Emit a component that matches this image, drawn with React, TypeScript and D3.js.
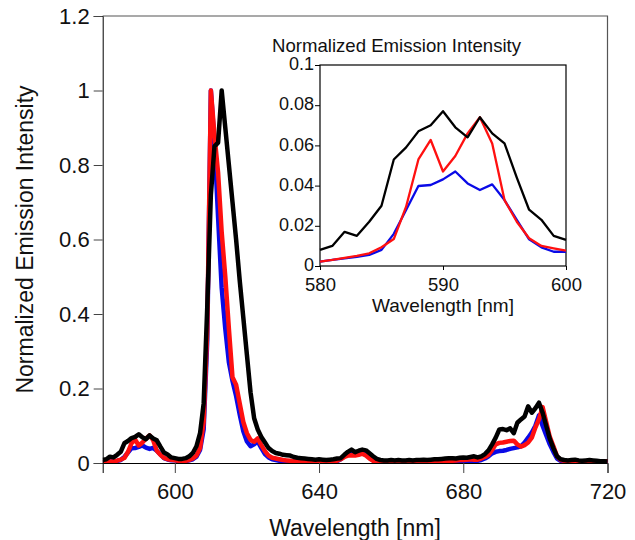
import * as d3 from "d3";
import { useRef, useEffect } from "react";

// sampled every 1 nm, 580..720
const wavelengths = d3.range(580, 721);

const black = [
  0.008, 0.010, 0.017, 0.015, 0.022, 0.030, 0.053, 0.059, 0.067, 0.070,
  0.077, 0.069, 0.064, 0.074, 0.066, 0.061, 0.044, 0.028, 0.023, 0.015,
  0.013, 0.011, 0.011, 0.013, 0.018, 0.027, 0.045, 0.08, 0.16, 0.42,
  0.72, 0.85, 0.86, 1.0, 0.9, 0.8, 0.7, 0.6, 0.49, 0.39,
  0.29, 0.19, 0.12, 0.09, 0.07, 0.055, 0.04, 0.032, 0.027, 0.025,
  0.022, 0.021, 0.02, 0.016, 0.014, 0.013, 0.012, 0.011, 0.01, 0.009,
  0.01, 0.009, 0.008, 0.009, 0.01, 0.012, 0.013, 0.022, 0.03, 0.036,
  0.029, 0.033, 0.036, 0.034, 0.026, 0.018, 0.011, 0.008, 0.007, 0.007,
  0.008, 0.007, 0.008, 0.007, 0.007, 0.008, 0.007, 0.008, 0.008, 0.009,
  0.008, 0.009, 0.010, 0.010, 0.011, 0.012, 0.013, 0.013, 0.012, 0.014,
  0.015, 0.014, 0.016, 0.018, 0.015, 0.018, 0.024, 0.034, 0.05, 0.068,
  0.09, 0.091, 0.088, 0.093, 0.08, 0.108, 0.117, 0.125, 0.152, 0.135,
  0.147, 0.162, 0.135, 0.1, 0.065, 0.04, 0.018, 0.01, 0.008, 0.007,
  0.008, 0.009, 0.007, 0.006, 0.007, 0.008, 0.007, 0.006, 0.005, 0.005,
  0.004,
];

const red = [
  0.0022, 0.003, 0.004, 0.005, 0.0063, 0.0093, 0.0134, 0.0295, 0.053, 0.0627,
  0.047, 0.0547, 0.066, 0.074, 0.061, 0.0328, 0.022, 0.0138, 0.01, 0.0088,
  0.0076, 0.006, 0.005, 0.006, 0.008, 0.012, 0.02, 0.04, 0.11, 0.36,
  1.0, 0.88, 0.78, 0.62, 0.5, 0.36, 0.23, 0.21, 0.16, 0.11,
  0.08, 0.062, 0.057, 0.066, 0.048, 0.032, 0.02, 0.014, 0.012, 0.01,
  0.008, 0.007, 0.006, 0.005, 0.005, 0.004, 0.004, 0.003, 0.003, 0.003,
  0.003, 0.003, 0.003, 0.004, 0.004, 0.006, 0.01, 0.016, 0.02, 0.021,
  0.02, 0.022, 0.025, 0.02, 0.012, 0.006, 0.003, 0.003, 0.002, 0.003,
  0.002, 0.003, 0.002, 0.003, 0.003, 0.002, 0.003, 0.002, 0.003, 0.003,
  0.004, 0.003, 0.004, 0.004, 0.005, 0.005, 0.006, 0.006, 0.007, 0.008,
  0.008, 0.009, 0.01, 0.009, 0.009, 0.012, 0.016, 0.022, 0.035, 0.05,
  0.054, 0.055, 0.057, 0.059, 0.06, 0.05, 0.044, 0.048, 0.055, 0.068,
  0.095, 0.118, 0.15, 0.11, 0.07, 0.045, 0.018, 0.008, 0.006, 0.005,
  0.005, 0.004, 0.005, 0.004, 0.004, 0.005, 0.004, 0.004, 0.003, 0.004,
  0.004,
];

const blue = [
  0.0022, 0.003, 0.0038, 0.0046, 0.0055, 0.008, 0.016, 0.0279, 0.0398, 0.0403,
  0.0431, 0.047, 0.0411, 0.0378, 0.0406, 0.0328, 0.0229, 0.0133, 0.0093, 0.0071,
  0.0071, 0.005, 0.004, 0.005, 0.007, 0.01, 0.017, 0.035, 0.09, 0.33,
  1.0, 0.86, 0.66, 0.47, 0.36, 0.27, 0.22, 0.18, 0.13, 0.085,
  0.058, 0.045, 0.05, 0.058, 0.04, 0.024, 0.015, 0.01, 0.008, 0.006,
  0.005, 0.004, 0.004, 0.004, 0.003, 0.003, 0.003, 0.003, 0.003, 0.003,
  0.003, 0.003, 0.003, 0.003, 0.004, 0.005, 0.01, 0.018, 0.024, 0.026,
  0.027, 0.028, 0.03, 0.026, 0.016, 0.007, 0.003, 0.002, 0.002, 0.001,
  0.002, 0.001, 0.002, 0.002, 0.001, 0.002, 0.002, 0.002, 0.003, 0.002,
  0.003, 0.003, 0.003, 0.003, 0.003, 0.004, 0.004, 0.004, 0.004, 0.004,
  0.004, 0.005, 0.005, 0.005, 0.006, 0.008, 0.012, 0.018, 0.026, 0.03,
  0.032, 0.033, 0.035, 0.038, 0.04, 0.042, 0.045, 0.055, 0.068, 0.082,
  0.1, 0.128, 0.1, 0.075, 0.05, 0.03, 0.012, 0.006, 0.005, 0.004,
  0.004, 0.003, 0.004, 0.003, 0.004, 0.004, 0.003, 0.003, 0.004, 0.003,
  0.003,
];

const series = [
  { values: blue, color: "#0a0ae6" },
  { values: red, color: "#ff1010" },
  { values: black, color: "#000" },
];

const xTicks = [600, 640, 680, 720];
const yTicks = [0, 0.2, 0.4, 0.6, 0.8, 1, 1.2];
const insetXTicks = [580, 590, 600];
const insetYTicks = [0, 0.02, 0.04, 0.06, 0.08, 0.1];

const font = "'Liberation Sans', Arial, sans-serif";
const fmt = (d: number) => `${+d.toFixed(2)}`;

export default function App() {
  const gx = useRef<SVGGElement>(null);
  const gy = useRef<SVGGElement>(null);
  const ix = useRef<SVGGElement>(null);
  const iy = useRef<SVGGElement>(null);

  // main plot
  const left = 102.7, right = 607.5, top = 16, bottom = 463;
  const x = d3.scaleLinear([580, 720], [left, right]);
  const y = d3.scaleLinear([0, 1.2], [bottom, top]);
  const line = d3.line<number>((d, i) => x(wavelengths[i]), (d) => y(d));

  // inset, zoom on 580-600 nm
  const il = 320, ir = 566, it = 65, ib = 266;
  const xi = d3.scaleLinear([580, 600], [il, ir]);
  const yi = d3.scaleLinear([0, 0.1], [ib, it]);
  const insetIdx = wavelengths.map((w, i) => i).filter((i) => wavelengths[i] <= 600);

  useEffect(() => {
    const ax = d3.select(gx.current!).call(
      d3.axisBottom(x).tickValues(xTicks).tickSize(10).tickFormat((d) => fmt(+d))
    );
    ax.select(".domain").attr("stroke", "#000");
    ax.selectAll(".tick line").attr("stroke", "#444");
    ax.selectAll("text").attr("font-size", 22).attr("font-family", font).attr("dy", "1.05em").attr("fill", "#111");

    const ay = d3.select(gy.current!).call(
      d3.axisLeft(y).tickValues(yTicks).tickSize(9).tickFormat((d) => fmt(+d))
    );
    ay.select(".domain").attr("stroke", "#000");
    ay.selectAll(".tick line").attr("stroke", "#444");
    ay.selectAll("text").attr("font-size", 22).attr("font-family", font).attr("x", -13).attr("fill", "#111");

    const bx = d3.select(ix.current!).call(
      d3.axisBottom(xi).tickValues(insetXTicks).tickSize(4).tickFormat((d) => fmt(+d))
    );
    bx.select(".domain").remove();
    bx.selectAll("text").attr("font-size", 18.5).attr("font-family", font).attr("dy", "0.98em").attr("fill", "#111");

    const by = d3.select(iy.current!).call(
      d3.axisLeft(yi).tickValues(insetYTicks).tickSize(5).tickFormat((d) => fmt(+d))
    );
    by.select(".domain").remove();
    by.selectAll("text").attr("font-size", 18).attr("font-family", font).attr("x", -6).attr("dy", "0.26em").attr("fill", "#111");
  }, []);

  return (
    <svg
      width={635}
      height={540}
      style={{ position: "absolute", left: 0, top: 0, background: "#fff" }}
    >
      <rect x={0} y={0} width={635} height={540} fill="#fff" />
      {/* top / right frame */}
      <path d={`M${left},${top}H${right}V${bottom}`} fill="none" stroke="#555" strokeWidth={1.2} />
      <defs>
        <clipPath id="main-clip">
          <rect x={left} y={top} width={right - left + 2} height={bottom - top} />
        </clipPath>
      </defs>
      <g clipPath="url(#main-clip)">
        {series.map((s, i) => (
          <path
            key={i}
            d={line(s.values) ?? ""}
            fill="none"
            stroke={s.color}
            strokeWidth={4.5}
            strokeLinejoin="round"
          />
        ))}
      </g>
      <g ref={gx} transform={`translate(0,${bottom})`} />
      <g ref={gy} transform={`translate(${left},0)`} />
      <text x={355} y={536} textAnchor="middle" fontFamily={font} fontSize={23} fill="#111">
        Wavelength [nm]
      </text>
      <text
        transform={`translate(33,${(top + bottom) / 2}) rotate(-90)`}
        textAnchor="middle"
        fontFamily={font}
        fontSize={23}
        fill="#111"
      >
        Normalized Emission Intensity
      </text>

      {/* inset */}
      <rect x={il} y={it} width={ir - il} height={ib - it} fill="#fff" stroke="#000" strokeWidth={1.2} />
      {series.map((s, i) => (
        <path
          key={i}
          d={d3.line<number>((k) => xi(wavelengths[k]), (k) => yi(s.values[k]))(insetIdx) ?? ""}
          fill="none"
          stroke={s.color}
          strokeWidth={2.3}
          strokeLinejoin="round"
        />
      ))}
      <g ref={ix} transform={`translate(0,${ib})`} />
      <g ref={iy} transform={`translate(${il},0)`} />
      <text x={272} y={52} fontFamily={font} fontSize={18.6} fill="#111">
        Normalized Emission Intensity
      </text>
      <text x={(il + ir) / 2} y={312} textAnchor="middle" fontFamily={font} fontSize={19} fill="#111">
        Wavelength [nm]
      </text>
    </svg>
  );
}
